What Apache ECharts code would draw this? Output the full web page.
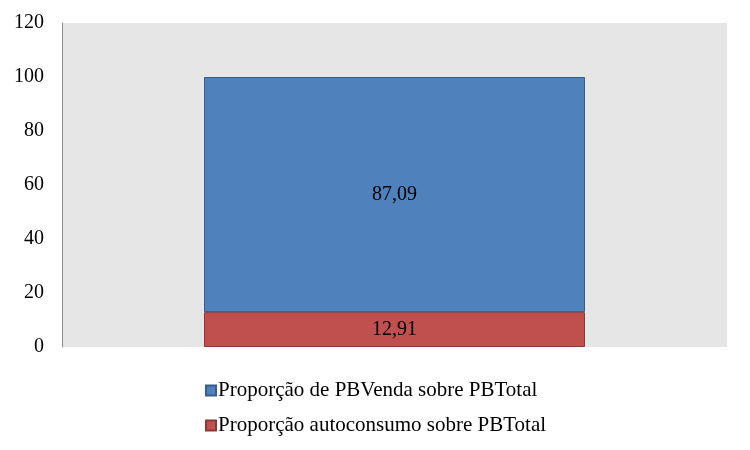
<!DOCTYPE html>
<html><head><meta charset="utf-8">
<script src="https://cdn.jsdelivr.net/npm/echarts@6/dist/echarts.min.js"></script>
<style>html,body{margin:0;padding:0;background:#fff}#c{width:750px;height:450px}</style>
</head><body><div id="c"></div>
<script>
var categories = [''];
var seriesNames = ['Proporção de PBVenda sobre PBTotal', 'Proporção autoconsumo sobre PBTotal'];
var vendaValues = [87.09];
var autoconsumoValues = [12.91];
var yTicks = [0, 20, 40, 60, 80, 100, 120];

var font = '"Liberation Serif", "Times New Roman", serif';
var chart = echarts.init(document.getElementById('c'));
function fmt(p){ return p.value.toFixed(2).replace('.', ','); }
chart.setOption({
  animation: false,
  grid: { left: 62, right: 23, top: 23, bottom: 103, backgroundColor: '#e6e6e6', show: true, borderWidth: 0 },
  legend: {
    orient: 'vertical', left: 200, top: 375,
    data: [seriesNames[0], seriesNames[1]],
    itemWidth: 10, itemHeight: 10, itemGap: 14,
    icon: 'rect',
    textStyle: { fontFamily: font, fontSize: 21, color: '#000', padding: [0,0,0,-3] }
  },
  xAxis: {
    type: 'category', data: categories,
    axisLine: { show: false }, axisTick: { show: false }, axisLabel: { show: false }
  },
  yAxis: {
    type: 'value', min: yTicks[0], max: yTicks[yTicks.length-1], interval: 20,
    axisLine: { show: true, lineStyle: { color: '#8c8c8c', width: 1 } },
    axisTick: { show: false },
    splitLine: { show: false },
    axisLabel: { fontFamily: font, fontSize: 20, color: '#000', margin: 18 }
  },
  series: [
    {
      name: seriesNames[1], type: 'bar', stack: 's', data: autoconsumoValues, barWidth: 381,
      itemStyle: { color: '#c0504d', borderColor: '#8c3836', borderWidth: 1 },
      label: { show: true, position: 'inside', formatter: fmt, fontFamily: font, fontSize: 20, color: '#000' }
    },
    {
      name: seriesNames[0], type: 'bar', stack: 's', data: vendaValues, barWidth: 381,
      itemStyle: { color: '#4f81bd', borderColor: '#385d8a', borderWidth: 1 },
      label: { show: true, position: 'inside', formatter: fmt, fontFamily: font, fontSize: 20, color: '#000' }
    }
  ]
});
</script></body></html>
